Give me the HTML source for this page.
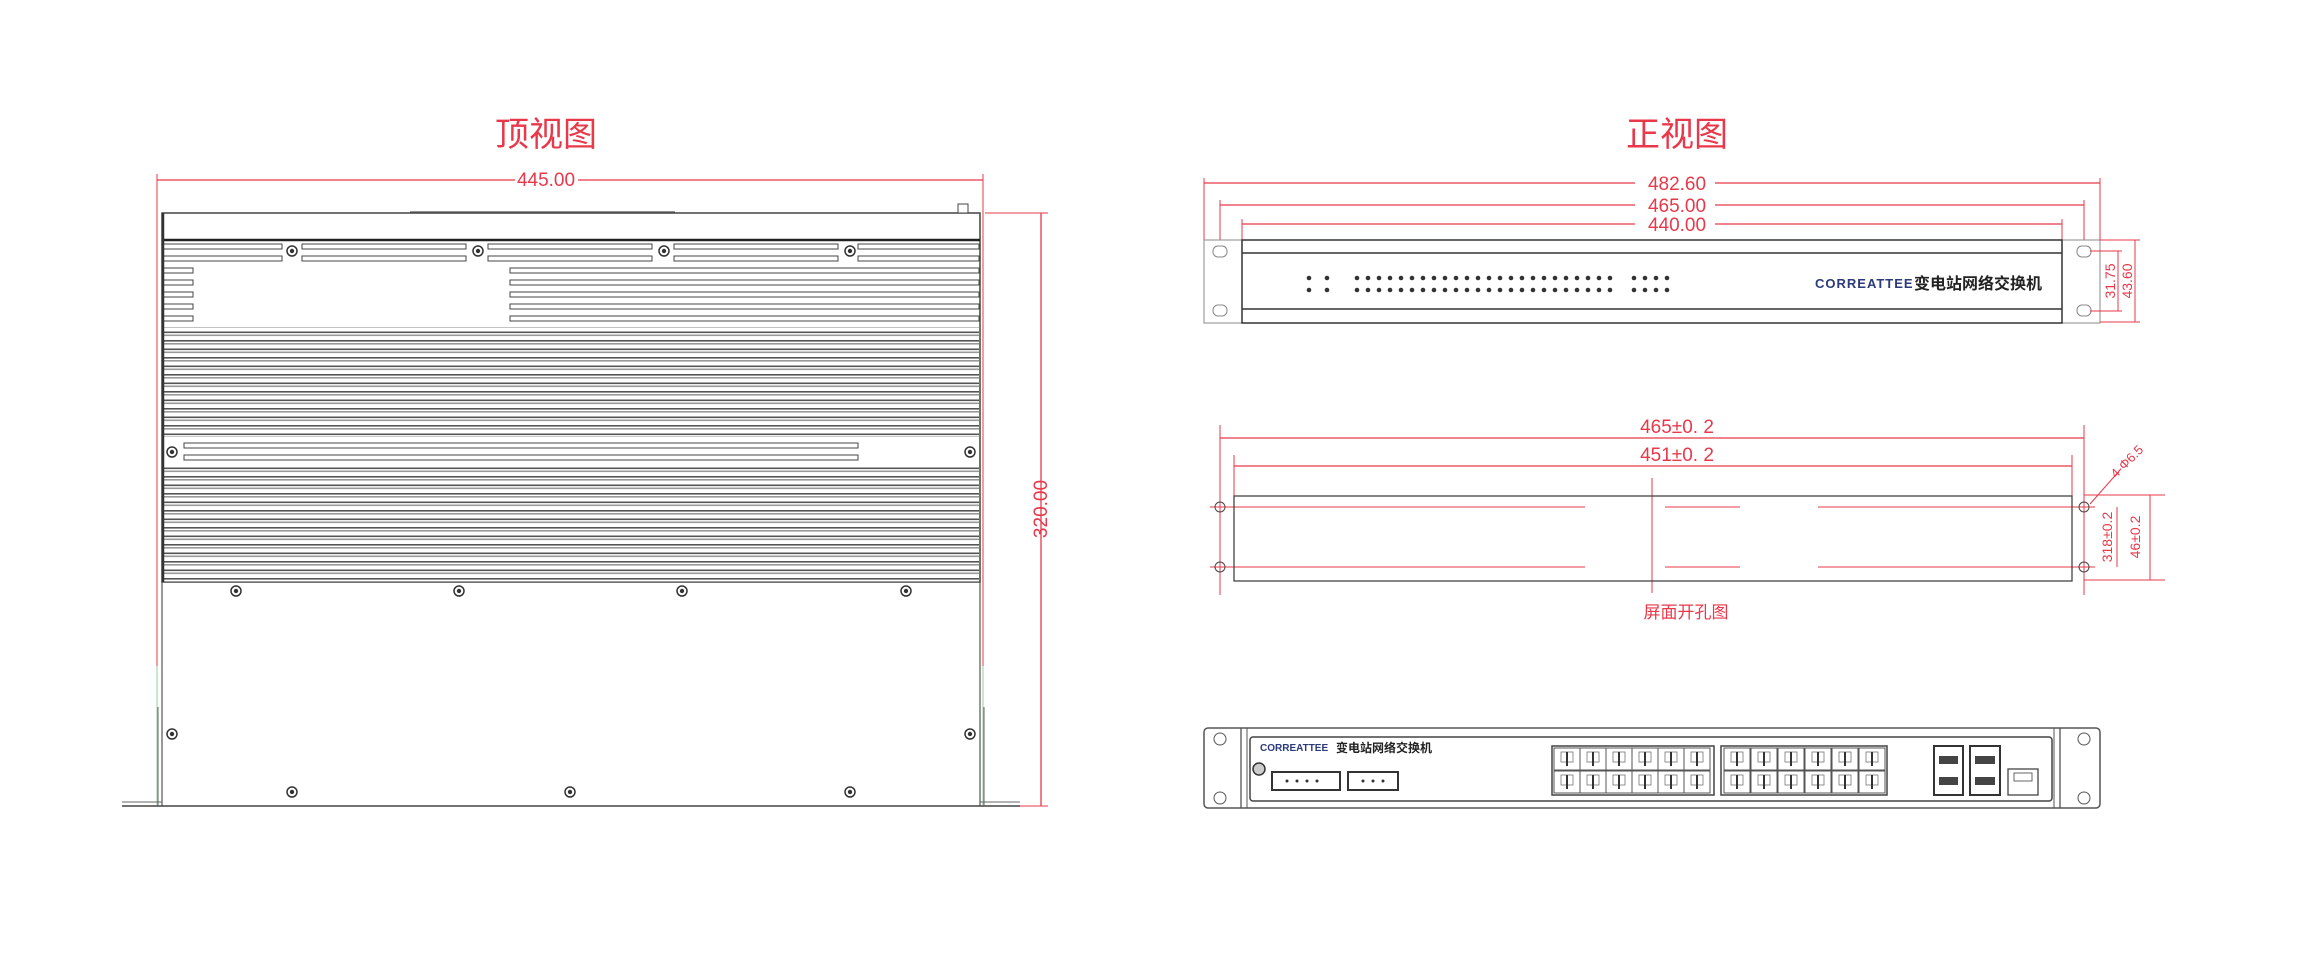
<!DOCTYPE html>
<html><head><meta charset="utf-8"><style>
html,body{margin:0;padding:0;background:#fff;}
svg{display:block;}
.r{fill:#e8384a;font-family:"Liberation Sans","Noto Sans CJK SC",sans-serif;}
</style></head><body>
<svg width="2314" height="972" viewBox="0 0 2314 972" xmlns="http://www.w3.org/2000/svg">
<defs>
<pattern id="fin" x="0" y="0" width="10" height="8.5" patternUnits="userSpaceOnUse">
<rect width="10" height="8.5" fill="#fff"/>
<line x1="0" y1="0.8" x2="10" y2="0.8" stroke="#555" stroke-width="1.6"/>
<line x1="0" y1="3.8" x2="10" y2="3.8" stroke="#999" stroke-width="1.6"/>
</pattern>
<g id="scr"><circle r="5" fill="#fff" stroke="#333" stroke-width="1.5"/><circle r="2.2" fill="#333"/></g>
<g id="rj"><rect x="0" y="0" width="26" height="22" fill="#fff" stroke="#555" stroke-width="1"/><rect x="7" y="4" width="12" height="10" fill="none" stroke="#777" stroke-width="0.8"/><line x1="13" y1="4" x2="13" y2="18" stroke="#333" stroke-width="2"/></g>
</defs>

<!-- ============ TOP VIEW ============ -->
<text class="r" x="546" y="146" font-size="34" text-anchor="middle">顶视图</text>
<line x1="157" y1="180" x2="515" y2="180" stroke="#e8384a" stroke-width="1.3"/>
<line x1="578" y1="180" x2="983" y2="180" stroke="#e8384a" stroke-width="1.3"/>
<text class="r" x="546" y="186" font-size="19" text-anchor="middle">445.00</text>
<line x1="157" y1="174" x2="157" y2="666" stroke="#e8384a" stroke-width="1"/>
<line x1="983" y1="174" x2="983" y2="666" stroke="#e8384a" stroke-width="1"/>
<line x1="157" y1="666" x2="157" y2="806" stroke="#9c9" stroke-width="1"/>
<line x1="983" y1="666" x2="983" y2="806" stroke="#9c9" stroke-width="1"/>
<line x1="985" y1="213" x2="1048" y2="213" stroke="#e8384a" stroke-width="1"/>
<line x1="1041" y1="213" x2="1041" y2="806" stroke="#e8384a" stroke-width="1.3"/>
<line x1="1000" y1="806" x2="1048" y2="806" stroke="#e8384a" stroke-width="1"/>
<text class="r" x="1041" y="515" font-size="19" text-anchor="middle" transform="rotate(-90 1041 509)">320.00</text>

<!-- body -->
<rect x="162" y="213" width="818" height="369" fill="#fff" stroke="#444" stroke-width="1.5"/>
<line x1="162" y1="240" x2="980" y2="240" stroke="#222" stroke-width="2.5"/>
<rect x="958" y="204" width="10" height="9" fill="#fff" stroke="#444"/>
<g stroke="#555" stroke-width="1.2">
<line x1="410" y1="212" x2="675" y2="212"/>
</g>
<!-- top slots -->
<g fill="#fff" stroke="#444" stroke-width="1">
<rect x="163" y="244" width="119" height="5"/><rect x="302" y="244" width="164" height="5"/><rect x="488" y="244" width="164" height="5"/><rect x="674" y="244" width="164" height="5"/><rect x="858" y="244" width="121" height="5"/>
<rect x="163" y="256" width="119" height="5"/><rect x="302" y="256" width="164" height="5"/><rect x="488" y="256" width="164" height="5"/><rect x="674" y="256" width="164" height="5"/><rect x="858" y="256" width="121" height="5"/>
<rect x="163" y="268" width="30" height="5"/><rect x="163" y="280" width="30" height="5"/><rect x="163" y="292" width="30" height="5"/><rect x="163" y="304" width="30" height="5"/><rect x="163" y="316" width="30" height="5"/>
<rect x="510" y="268" width="469" height="5"/><rect x="510" y="280" width="469" height="5"/><rect x="510" y="292" width="469" height="5"/><rect x="510" y="304" width="469" height="5"/><rect x="510" y="316" width="469" height="5"/>
</g>
<use href="#scr" x="292" y="251"/><use href="#scr" x="478" y="251"/><use href="#scr" x="664" y="251"/><use href="#scr" x="850" y="251"/>
<rect x="163" y="327" width="816" height="110" fill="url(#fin)"/>
<g fill="#fff" stroke="#444" stroke-width="1">
<rect x="184" y="443" width="674" height="5"/><rect x="184" y="455" width="674" height="5"/>
</g>
<use href="#scr" x="172" y="452"/><use href="#scr" x="970" y="452"/>
<rect x="163" y="466" width="816" height="116" fill="url(#fin)"/>
<line x1="163" y1="213" x2="163" y2="582" stroke="#333" stroke-width="2.5"/>
<!-- lower plate -->
<line x1="162" y1="582" x2="162" y2="806" stroke="#555" stroke-width="1.2"/>
<line x1="980" y1="582" x2="980" y2="806" stroke="#555" stroke-width="1.2"/>
<line x1="122" y1="806" x2="1020" y2="806" stroke="#444" stroke-width="1.5"/>
<line x1="122" y1="802" x2="162" y2="802" stroke="#666"/>
<line x1="980" y1="802" x2="1020" y2="802" stroke="#666"/>
<line x1="158" y1="707" x2="158" y2="806" stroke="#666"/>
<line x1="984" y1="707" x2="984" y2="806" stroke="#666"/>
<use href="#scr" x="236" y="591"/><use href="#scr" x="459" y="591"/><use href="#scr" x="682" y="591"/><use href="#scr" x="906" y="591"/>
<use href="#scr" x="172" y="734"/><use href="#scr" x="970" y="734"/>
<use href="#scr" x="292" y="792"/><use href="#scr" x="570" y="792"/><use href="#scr" x="850" y="792"/>

<!-- ============ FRONT VIEW ============ -->
<text class="r" x="1677" y="146" font-size="34" text-anchor="middle">正视图</text>
<g stroke="#e8384a" stroke-width="1.3">
<line x1="1204" y1="183" x2="1635" y2="183"/><line x1="1715" y1="183" x2="2100" y2="183"/>
<line x1="1220" y1="205" x2="1635" y2="205"/><line x1="1715" y1="205" x2="2084" y2="205"/>
<line x1="1242" y1="224" x2="1635" y2="224"/><line x1="1715" y1="224" x2="2062" y2="224"/>
<line x1="1204" y1="178" x2="1204" y2="240" stroke-width="1"/><line x1="2100" y1="178" x2="2100" y2="240" stroke-width="1"/>
<line x1="1220" y1="200" x2="1220" y2="250" stroke-width="1"/><line x1="2084" y1="200" x2="2084" y2="250" stroke-width="1"/>
<line x1="1242" y1="219" x2="1242" y2="240" stroke-width="1"/><line x1="2062" y1="219" x2="2062" y2="240" stroke-width="1"/>
</g>
<text class="r" x="1677" y="190" font-size="19" text-anchor="middle">482.60</text>
<text class="r" x="1677" y="212" font-size="19" text-anchor="middle">465.00</text>
<text class="r" x="1677" y="231" font-size="19" text-anchor="middle">440.00</text>
<!-- ears -->
<rect x="1204" y="240" width="38" height="83" fill="#fff" stroke="#888"/>
<rect x="2062" y="240" width="38" height="83" fill="#fff" stroke="#888"/>
<rect x="1213" y="246" width="14" height="11" rx="5" fill="none" stroke="#888"/>
<rect x="1213" y="305" width="14" height="11" rx="5" fill="none" stroke="#888"/>
<rect x="2077" y="246" width="14" height="11" rx="5" fill="none" stroke="#888"/>
<rect x="2077" y="305" width="14" height="11" rx="5" fill="none" stroke="#888"/>
<rect x="1242" y="240" width="820" height="83" fill="#fff" stroke="#333" stroke-width="1.5"/>
<line x1="1242" y1="253" x2="2062" y2="253" stroke="#333" stroke-width="1.5"/>
<line x1="1242" y1="309" x2="2062" y2="309" stroke="#333" stroke-width="1.5"/>
<g fill="#333">
<circle cx="1309" cy="278" r="2.3"/><circle cx="1327" cy="278" r="2.3"/><circle cx="1309" cy="290" r="2.3"/><circle cx="1327" cy="290" r="2.3"/>
</g>
<g fill="#333" id="leds">
<circle cx="1357" cy="278" r="2.3"/><circle cx="1368" cy="278" r="2.3"/><circle cx="1379" cy="278" r="2.3"/><circle cx="1390" cy="278" r="2.3"/><circle cx="1401" cy="278" r="2.3"/><circle cx="1412" cy="278" r="2.3"/><circle cx="1423" cy="278" r="2.3"/><circle cx="1434" cy="278" r="2.3"/><circle cx="1445" cy="278" r="2.3"/><circle cx="1456" cy="278" r="2.3"/><circle cx="1467" cy="278" r="2.3"/><circle cx="1478" cy="278" r="2.3"/><circle cx="1489" cy="278" r="2.3"/><circle cx="1500" cy="278" r="2.3"/><circle cx="1511" cy="278" r="2.3"/><circle cx="1522" cy="278" r="2.3"/><circle cx="1533" cy="278" r="2.3"/><circle cx="1544" cy="278" r="2.3"/><circle cx="1555" cy="278" r="2.3"/><circle cx="1566" cy="278" r="2.3"/><circle cx="1577" cy="278" r="2.3"/><circle cx="1588" cy="278" r="2.3"/><circle cx="1599" cy="278" r="2.3"/><circle cx="1610" cy="278" r="2.3"/>
<circle cx="1634" cy="278" r="2.3"/><circle cx="1645" cy="278" r="2.3"/><circle cx="1656" cy="278" r="2.3"/><circle cx="1667" cy="278" r="2.3"/>
</g>
<use href="#leds" y="12"/>
<text x="1815" y="288" font-size="13" font-weight="bold" fill="#2b3a7a" font-family="Liberation Sans, sans-serif" letter-spacing="1">CORREATTEE</text>
<text x="1914" y="289" font-size="16" font-weight="bold" fill="#222" font-family="Liberation Sans,'Noto Sans CJK SC',sans-serif">变电站网络交换机</text>
<g stroke="#e8384a" stroke-width="1">
<line x1="2090" y1="251" x2="2122" y2="251"/><line x1="2090" y1="311" x2="2122" y2="311"/>
<line x1="2118" y1="251" x2="2118" y2="311"/>
<line x1="2100" y1="240" x2="2140" y2="240"/><line x1="2100" y1="322" x2="2140" y2="322"/>
<line x1="2135" y1="240" x2="2135" y2="322"/>
</g>
<text class="r" x="2111" y="285" font-size="14" text-anchor="middle" transform="rotate(-90 2111 281)">31.75</text>
<text class="r" x="2128" y="285" font-size="14" text-anchor="middle" transform="rotate(-90 2128 281)">43.60</text>

<!-- ============ CUTOUT ============ -->
<g stroke="#e8384a" stroke-width="1.3">
<line x1="1220" y1="438" x2="2084" y2="438"/>
<line x1="1234" y1="466" x2="2072" y2="466"/>
<line x1="1220" y1="425" x2="1220" y2="595" stroke-width="1"/><line x1="2084" y1="425" x2="2084" y2="595" stroke-width="1"/>
<line x1="1234" y1="455" x2="1234" y2="496" stroke-width="1"/><line x1="2072" y1="455" x2="2072" y2="496" stroke-width="1"/>
<line x1="1652" y1="478" x2="1652" y2="593" stroke-width="1"/>
<line x1="1210" y1="507" x2="1585" y2="507" stroke-width="1"/><line x1="1665" y1="507" x2="1740" y2="507" stroke-width="1"/><line x1="1818" y1="507" x2="2095" y2="507" stroke-width="1"/>
<line x1="1210" y1="567" x2="1585" y2="567" stroke-width="1"/><line x1="1665" y1="567" x2="1740" y2="567" stroke-width="1"/><line x1="1818" y1="567" x2="2095" y2="567" stroke-width="1"/>
<line x1="2084" y1="495" x2="2165" y2="495" stroke-width="1"/><line x1="2084" y1="580" x2="2165" y2="580" stroke-width="1"/>
<line x1="2117" y1="507" x2="2117" y2="567" stroke-width="1"/><line x1="2150" y1="495" x2="2150" y2="580" stroke-width="1"/>
<line x1="2090" y1="504" x2="2120" y2="470" stroke-width="1"/>
</g>
<text class="r" x="1677" y="433" font-size="19" text-anchor="middle">465±0. 2</text>
<text class="r" x="1677" y="461" font-size="19" text-anchor="middle">451±0. 2</text>
<rect x="1234" y="496" width="838" height="85" fill="none" stroke="#444" stroke-width="1.3"/>
<circle cx="1220" cy="507" r="5" fill="none" stroke="#444"/><circle cx="1220" cy="567" r="5" fill="none" stroke="#444"/>
<circle cx="2084" cy="507" r="5" fill="none" stroke="#444"/><circle cx="2084" cy="567" r="5" fill="none" stroke="#444"/>
<text class="r" x="2113" y="480" font-size="13" transform="rotate(-45 2113 476)">4-Φ6.5</text>
<text class="r" x="2108" y="541" font-size="14" text-anchor="middle" transform="rotate(-90 2108 537)">318±0.2</text>
<text class="r" x="2136" y="541" font-size="14" text-anchor="middle" transform="rotate(-90 2136 537)">46±0.2</text>
<text class="r" x="1686" y="618" font-size="17" text-anchor="middle">屏面开孔图</text>

<!-- ============ REAR PANEL ============ -->
<rect x="1204" y="728" width="896" height="80" rx="4" fill="#fff" stroke="#555" stroke-width="1.5"/>
<line x1="1241" y1="728" x2="1241" y2="808" stroke="#555" stroke-width="1.3"/>
<line x1="1247" y1="728" x2="1247" y2="808" stroke="#555" stroke-width="1"/>
<line x1="2060" y1="728" x2="2060" y2="808" stroke="#555" stroke-width="1.3"/>
<line x1="2054" y1="728" x2="2054" y2="808" stroke="#555" stroke-width="1"/>
<rect x="1250" y="737" width="802" height="64" rx="3" fill="none" stroke="#444" stroke-width="1.5"/>
<circle cx="1220" cy="739" r="6" fill="none" stroke="#555"/><circle cx="1220" cy="798" r="6" fill="none" stroke="#555"/>
<circle cx="2084" cy="739" r="6" fill="none" stroke="#555"/><circle cx="2084" cy="798" r="6" fill="none" stroke="#555"/>
<text x="1260" y="751" font-size="10" font-weight="bold" fill="#2b3a7a" font-family="Liberation Sans,sans-serif">CORREATTEE</text>
<text x="1336" y="752" font-size="12" font-weight="bold" fill="#222" font-family="Liberation Sans,'Noto Sans CJK SC',sans-serif">变电站网络交换机</text>
<circle cx="1259" cy="769" r="6" fill="#ccc" stroke="#333" stroke-width="1.5"/>
<rect x="1272" y="772" width="68" height="18" fill="#fff" stroke="#333" stroke-width="2"/>
<rect x="1348" y="772" width="50" height="18" fill="#fff" stroke="#333" stroke-width="2"/>
<g fill="#333"><circle cx="1287" cy="781" r="1.5"/><circle cx="1297" cy="781" r="1.5"/><circle cx="1307" cy="781" r="1.5"/><circle cx="1317" cy="781" r="1.5"/><circle cx="1363" cy="781" r="1.5"/><circle cx="1373" cy="781" r="1.5"/><circle cx="1383" cy="781" r="1.5"/></g>
<rect x="1552" y="746" width="162" height="49" fill="none" stroke="#444" stroke-width="1.5"/>
<rect x="1721" y="746" width="166" height="49" fill="none" stroke="#444" stroke-width="1.5"/>
<g id="rjrow">
<use href="#rj" x="1554" y="748"/><use href="#rj" x="1580" y="748"/><use href="#rj" x="1606" y="748"/><use href="#rj" x="1632" y="748"/><use href="#rj" x="1658" y="748"/><use href="#rj" x="1684" y="748"/>
<use href="#rj" x="1724" y="748"/><use href="#rj" x="1751" y="748"/><use href="#rj" x="1778" y="748"/><use href="#rj" x="1805" y="748"/><use href="#rj" x="1832" y="748"/><use href="#rj" x="1859" y="748"/>
</g>
<use href="#rjrow" y="23"/>
<rect x="1934" y="746" width="29" height="49" fill="#fff" stroke="#333" stroke-width="2"/>
<rect x="1970" y="746" width="30" height="49" fill="#fff" stroke="#333" stroke-width="2"/>
<g fill="#444"><rect x="1939" y="756" width="19" height="8"/><rect x="1939" y="777" width="19" height="8"/><rect x="1975" y="756" width="20" height="8"/><rect x="1975" y="777" width="20" height="8"/></g>
<rect x="2008" y="769" width="30" height="26" fill="#fff" stroke="#444" stroke-width="1.3"/>
<rect x="2014" y="773" width="18" height="8" fill="none" stroke="#666"/>
</svg>
</body></html>
